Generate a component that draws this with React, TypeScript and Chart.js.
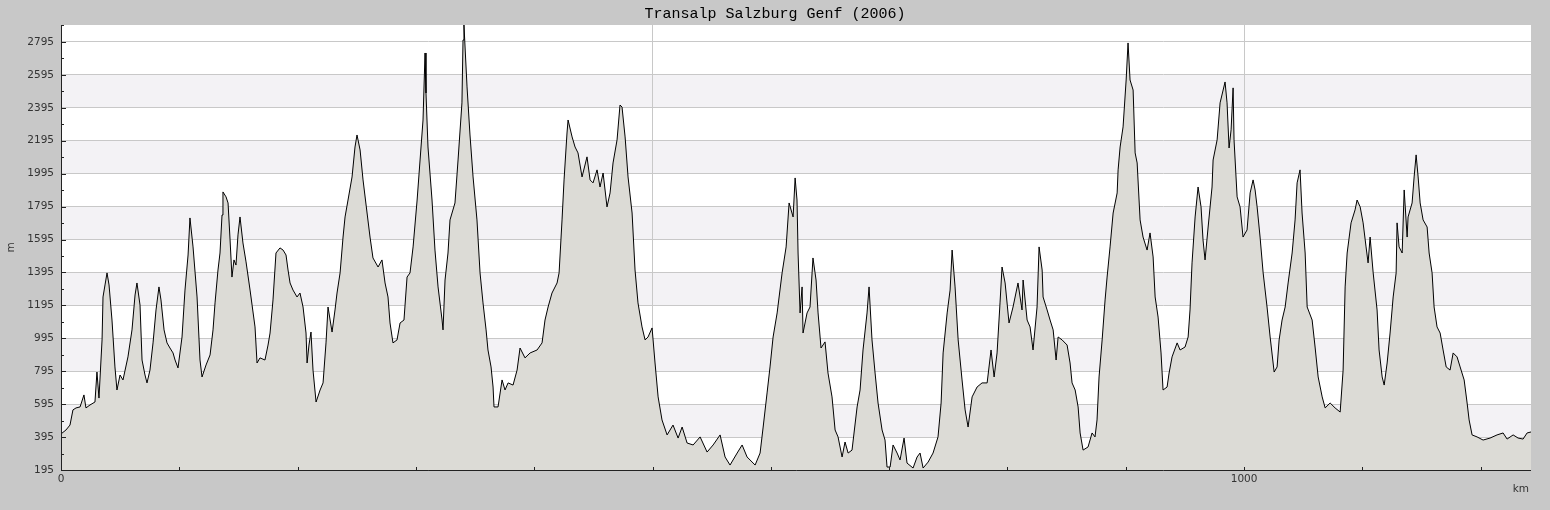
import React, { useEffect, useRef } from 'react';
import Chart from 'chart.js/auto';

const chartTitle = 'Transalp Salzburg Genf (2006)';

// distance along the route (km) and elevation (m)
const distanceKm = [
  0, 4.2, 7.6, 10.1, 12.7, 16.1, 19.4, 21.1, 24.5, 28.7, 30.4, 32.1, 34.7, 35.5, 37.2, 38.9, 40.6, 43.1, 45.6, 47.3,
  49.9, 52.4, 56.6, 60.0, 62.6, 64.2, 66.8, 68.5, 71.0, 72.7, 75.2, 77.8, 80.3, 82.8, 84.5, 87.1, 89.6, 92.1, 94.7, 96.4,
  98.9, 102.3, 104.8, 107.4, 109.0, 111.6, 115.0, 117.5, 119.2, 122.6, 126.0, 128.5, 130.2, 132.7, 134.4, 136.1, 136.9, 139.5, 141.2, 142.9,
  144.5, 146.2, 147.9, 149.6, 151.3, 153.8, 156.4, 159.8, 161.5, 164.0, 165.7, 168.2, 172.4, 175.0, 176.7, 179.2, 181.7, 185.1, 187.7, 190.2,
  191.9, 193.6, 196.1, 199.5, 202.0, 204.6, 207.1, 208.0, 209.6, 211.3, 213.0, 215.6, 219.0, 221.5, 224.0, 225.7, 229.1, 231.6, 233.3, 235.9,
  238.4, 240.1, 242.6, 246.0, 248.5, 250.2, 252.8, 255.3, 258.7, 261.2, 263.7, 268.0, 271.3, 273.9, 276.4, 278.1, 280.6, 284.0, 286.6, 289.9,
  292.5, 295.0, 297.6, 301.0, 303.5, 306.0, 307.7, 308.5, 310.2, 313.6, 316.1, 318.7, 322.1, 322.9, 324.6, 327.1, 328.8, 333.0, 335.6, 338.9,
  339.8, 340.6, 343.2, 345.7, 348.3, 351.6, 354.2, 356.7, 359.3, 360.9, 363.5, 365.2, 366.0, 369.4, 372.8, 375.3, 377.9, 382.1, 385.5, 388.0,
  392.2, 396.5, 402.4, 406.6, 409.1, 411.7, 415.0, 419.3, 421.0, 423.5, 425.2, 427.7, 428.6, 432.0, 434.5, 437.0, 440.4, 444.6, 447.2, 449.7,
  453.1, 455.6, 458.2, 461.5, 464.1, 466.6, 470.0, 472.5, 474.2, 476.8, 479.3, 482.7, 485.2, 487.7, 491.1, 493.7, 496.2, 499.6, 502.1, 504.7,
  508.0, 512.3, 517.3, 521.6, 525.0, 529.2, 534.3, 540.2, 546.1, 551.2, 557.1, 561.3, 565.5, 571.5, 575.7, 579.9, 586.7, 590.9, 593.5, 596.8,
  599.3, 601.9, 605.3, 609.5, 612.9, 615.4, 618.8, 620.5, 622.1, 623.0, 624.7, 626.4, 627.2, 630.6, 633.1, 635.6, 638.2, 639.9, 642.4, 645.8,
  648.3, 651.7, 654.3, 656.8, 660.2, 662.7, 665.3, 668.6, 672.9, 675.4, 677.9, 681.3, 683.0, 685.5, 688.1, 690.6, 694.0, 696.5, 698.2, 700.8,
  703.3, 706.7, 709.2, 712.6, 715.1, 720.2, 723.6, 726.1, 728.7, 732.9, 737.1, 741.3, 743.9, 745.6, 749.0, 751.5, 753.2, 755.7, 758.3, 761.6,
  764.2, 766.7, 770.1, 774.3, 778.5, 782.8, 786.1, 788.7, 791.2, 793.7, 795.4, 798.0, 801.3, 804.7, 808.9, 812.3, 813.2, 816.6, 819.1, 821.6,
  825.0, 826.7, 829.3, 830.1, 833.5, 836.0, 838.6, 841.1, 842.8, 846.2, 850.4, 852.9, 854.6, 857.2, 859.7, 861.4, 863.9, 868.1, 871.5, 874.0,
  875.7, 877.4, 880.0, 882.5, 884.2, 886.7, 889.3, 892.7, 893.5, 895.2, 897.7, 900.3, 901.9, 903.6, 906.2, 907.9, 909.6, 912.1, 914.6, 918.0,
  920.5, 923.1, 924.8, 927.3, 929.8, 931.5, 934.9, 936.6, 939.1, 943.4, 945.9, 950.1, 952.7, 954.3, 956.0, 958.6, 961.1, 963.6, 965.3, 967.0,
  969.6, 972.9, 973.8, 977.2, 979.7, 983.9, 985.6, 987.3, 989.0, 990.7, 991.5, 994.1, 996.6, 999.1, 1002.5, 1005.1, 1007.6, 1009.3, 1011.0, 1013.5,
  1016.1, 1019.4, 1022.0, 1025.4, 1027.9, 1029.6, 1032.1, 1034.7, 1037.2, 1040.6, 1043.1, 1044.8, 1047.3, 1049.0, 1051.6, 1053.3, 1057.5, 1060.0, 1062.6, 1066.0,
  1068.5, 1072.7, 1076.9, 1081.2, 1083.7, 1085.4, 1087.1, 1090.4, 1093.8, 1095.5, 1098.1, 1100.6, 1103.1, 1104.8, 1106.5, 1109.1, 1112.4, 1114.1, 1116.7, 1118.4,
  1120.9, 1123.4, 1126.0, 1128.5, 1129.3, 1131.0, 1133.6, 1135.3, 1137.8, 1138.6, 1142.0, 1143.7, 1145.4, 1147.1, 1148.8, 1151.3, 1154.7, 1156.4, 1158.9, 1160.6,
  1163.1, 1165.7, 1168.2, 1170.8, 1174.1, 1176.7, 1180.0, 1182.6, 1186.0, 1188.5, 1190.2, 1192.7, 1196.9, 1202.0, 1207.9, 1213.8, 1218.9, 1222.3, 1227.4, 1231.6,
  1235.8, 1239.2, 1242.5,
];

const elevationM = [
  414, 438, 468, 560, 572, 578, 651, 572, 590, 608, 790, 632, 985, 1246, 1319, 1392, 1319, 1106, 821, 681,
  772, 742, 882, 1046, 1258, 1331, 1197, 863, 772, 724, 802, 967, 1167, 1307, 1228, 1046, 967, 936, 906, 863,
  815, 1003, 1288, 1501, 1726, 1550, 1246, 863, 760, 833, 894, 1046, 1210, 1410, 1513, 1744, 1884, 1854, 1817, 1592,
  1367, 1471, 1440, 1623, 1732, 1574, 1459, 1288, 1197, 1064, 845, 876, 863, 954, 1027, 1228, 1513, 1544, 1531, 1501,
  1410, 1331, 1288, 1246, 1270, 1185, 1027, 845, 954, 1033, 802, 608, 681, 724, 967, 1185, 1033, 1167, 1270, 1392,
  1610, 1732, 1835, 1975, 2157, 2230, 2139, 1957, 1756, 1610, 1483, 1428, 1471, 1331, 1246, 1088, 967, 985, 1088, 1106,
  1367, 1392, 1550, 1835, 2078, 2321, 2728, 2485, 2157, 1835, 1531, 1307, 1106, 1046, 1349, 1513, 1714, 1817, 2078, 2425,
  2807, 2898, 2522, 2230, 1975, 1714, 1392, 1210, 1046, 924, 821, 699, 578, 578, 742, 681, 724, 711, 802, 936,
  876, 906, 924, 967, 1106, 1185, 1270, 1331, 1392, 1714, 1957, 2242, 2321, 2218, 2157, 2121, 1975, 2097, 1957, 1939,
  2018, 1914, 1999, 1793, 1878, 2060, 2200, 2412, 2400, 2218, 1975, 1756, 1410, 1210, 1064, 985, 1003, 1058, 845, 639,
  499, 408, 468, 389, 456, 359, 347, 396, 304, 347, 408, 274, 225, 298, 347, 274, 225, 298, 456, 663,
  821, 1003, 1149, 1392, 1550, 1817, 1732, 1969, 1835, 1513, 1149, 1307, 1027, 1149, 1185, 1483, 1349, 1149, 936, 973,
  784, 639, 438, 396, 274, 365, 298, 316, 578, 681, 924, 1149, 1307, 985, 784, 602, 438, 377, 213, 213,
  347, 298, 256, 389, 237, 207, 274, 298, 207, 243, 298, 396, 602, 906, 1149, 1288, 1531, 1307, 985, 742,
  560, 456, 639, 699, 724, 724, 924, 760, 906, 1210, 1428, 1331, 1088, 1185, 1331, 1167, 1349, 1106, 1064, 924,
  1185, 1550, 1410, 1246, 1167, 1106, 1046, 863, 1003, 985, 954, 845, 724, 681, 578, 420, 316, 335, 420, 396,
  499, 760, 985, 1228, 1367, 1550, 1756, 1878, 2018, 2157, 2279, 2564, 2789, 2564, 2503, 2121, 2060, 1714, 1610, 1531,
  1635, 1489, 1246, 1124, 906, 681, 699, 784, 882, 967, 924, 942, 1003, 1167, 1453, 1732, 1914, 1793, 1592, 1471,
  1671, 1914, 2078, 2200, 2425, 2552, 2425, 2151, 2261, 2516, 2200, 1854, 1793, 1610, 1653, 1878, 1957, 1896, 1793, 1610,
  1392, 1185, 1003, 790, 821, 985, 1106, 1185, 1331, 1513, 1714, 1939, 2018, 1756, 1513, 1185, 1106, 942, 760, 639,
  572, 602, 572, 547, 802, 1307, 1513, 1696, 1775, 1835, 1793, 1696, 1550, 1453, 1610, 1392, 1167, 924, 760, 711,
  845, 1027, 1246, 1392, 1696, 1550, 1513, 1896, 1610, 1732, 1817, 1975, 2109, 1975, 1817, 1714, 1671, 1513, 1392, 1185,
  1064, 1027, 924, 821, 802, 906, 882, 821, 742, 602, 499, 408, 396, 377, 389, 408, 420, 383, 408, 389,
  383, 420, 426,
];

const yTicks = [195, 395, 595, 795, 995, 1195, 1395, 1595, 1795, 1995, 2195, 2395, 2595, 2795];
const xTicks = [0, 100, 200, 300, 400, 500, 600, 700, 800, 900, 1000, 1100, 1200];
const xLabels = [0, 1000];
const xGridLines = [500, 1000];

const Y_MIN = 195;
const Y_MAX = 2898;
const X_MAX = 1242.5;

const tickFont = { family: '"DejaVu Sans", sans-serif', size: 10.5 };

const framePlugin = {
  id: 'frame',
  beforeDraw(chart: any) {
    const { ctx, chartArea: a, scales } = chart;
    const y = scales.y;
    ctx.save();
    ctx.fillStyle = '#c8c8c8';
    ctx.fillRect(0, 0, chart.width, chart.height);
    ctx.fillStyle = '#ffffff';
    ctx.fillRect(a.left, a.top, a.right - a.left, a.bottom - a.top);
    ctx.fillStyle = '#f3f2f5';
    for (let i = 1; i < yTicks.length - 1; i += 2) {
      const top = y.getPixelForValue(yTicks[i + 1]);
      const bot = y.getPixelForValue(yTicks[i]);
      ctx.fillRect(a.left, top, a.right - a.left, bot - top);
    }
    ctx.restore();
  },
  afterDraw(chart: any) {
    const { ctx, chartArea: a, scales } = chart;
    const x = scales.x;
    const y = scales.y;
    ctx.save();
    ctx.strokeStyle = '#222';
    ctx.lineWidth = 1;
    ctx.beginPath();
    ctx.moveTo(a.left + 0.5, a.top);
    ctx.lineTo(a.left + 0.5, a.bottom + 0.5);
    ctx.lineTo(a.right, a.bottom + 0.5);
    // inward ticks on the y axis: long at labels, short in between
    yTicks.forEach((v, i) => {
      const py = Math.round(y.getPixelForValue(v)) + 0.5;
      ctx.moveTo(a.left, py);
      ctx.lineTo(a.left + 5, py);
      const mid = v + 100;
      if (mid <= Y_MAX) {
        const pm = Math.round(y.getPixelForValue(mid)) + 0.5;
        ctx.moveTo(a.left, pm);
        ctx.lineTo(a.left + 3, pm);
      }
    });
    xTicks.forEach((v) => {
      if (v === 0) return;
      const px = Math.round(x.getPixelForValue(v)) + 0.5;
      ctx.moveTo(px, a.bottom);
      ctx.lineTo(px, a.bottom - 3);
    });
    ctx.stroke();

    ctx.fillStyle = '#000';
    ctx.font = '15px "Liberation Mono", monospace';
    ctx.textAlign = 'center';
    ctx.textBaseline = 'middle';
    ctx.fillText(chartTitle, chart.width / 2, 14);

    ctx.fillStyle = '#333';
    ctx.font = '10.5px "DejaVu Sans", sans-serif';
    ctx.textAlign = 'right';
    ctx.fillText('km', a.right - 2, 489);
    ctx.translate(11, (a.top + a.bottom) / 2);
    ctx.rotate(-Math.PI / 2);
    ctx.textAlign = 'center';
    ctx.fillText('m', 0, 0);
    ctx.restore();
  },
};

const App: React.FC = () => {
  const canvasRef = useRef<HTMLCanvasElement>(null);

  useEffect(() => {
    document.body.style.margin = '0';
    if (!canvasRef.current) return;

    const points = distanceKm.map((d, i) => ({ x: d, y: elevationM[i] }));

    const chart = new Chart(canvasRef.current, {
      type: 'line',
      data: {
        datasets: [
          {
            label: 'Höhe',
            data: points,
            borderColor: '#000000',
            borderWidth: 1,
            backgroundColor: '#dcdbd6',
            fill: 'start',
            pointRadius: 0,
            tension: 0,
          },
        ],
      },
      options: {
        responsive: true,
        maintainAspectRatio: false,
        animation: false,
        layout: { padding: { top: 25, right: 19, left: 0, bottom: 0 } },
        plugins: {
          legend: { display: false },
          tooltip: { enabled: false },
          title: { display: false },
        },
        scales: {
          x: {
            type: 'linear',
            min: 0,
            max: X_MAX,
            afterBuildTicks: (scale: any) => {
              scale.ticks = xTicks.map((v) => ({ value: v }));
            },
            afterFit: (scale: any) => {
              scale.height = 40;
            },
            ticks: {
              autoSkip: false,
              maxRotation: 0,
              padding: 3,
              color: '#333',
              font: tickFont,
              callback: (v: any) => (xLabels.includes(Number(v)) ? String(v) : ''),
            },
            grid: {
              drawTicks: false,
              color: (c: any) => (xGridLines.includes(c.tick?.value) ? '#c8c8c8' : 'rgba(0,0,0,0)'),
            },
            border: { display: false },
          },
          y: {
            min: Y_MIN,
            max: Y_MAX,
            afterBuildTicks: (scale: any) => {
              scale.ticks = yTicks.map((v) => ({ value: v }));
            },
            afterFit: (scale: any) => {
              scale.width = 61;
            },
            ticks: {
              autoSkip: false,
              padding: 7,
              color: '#333',
              font: tickFont,
              callback: (v: any) => String(v),
            },
            grid: { drawTicks: false, color: '#c8c8c8' },
            border: { display: false },
          },
        },
      },
      plugins: [framePlugin],
    });

    return () => {
      chart.destroy();
    };
  }, []);

  return (
    <div style={{ position: 'relative', width: 1550, height: 510 }}>
      <canvas ref={canvasRef}></canvas>
    </div>
  );
};

export default App;
